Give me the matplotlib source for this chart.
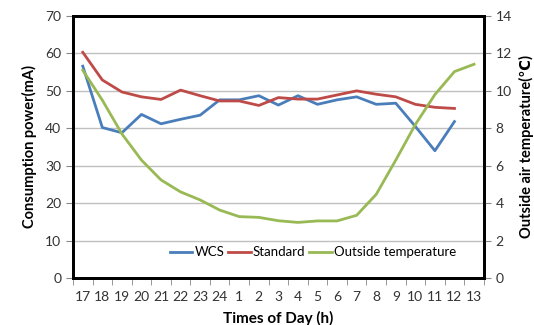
import numpy as np
import matplotlib.pyplot as plt

plt.rcParams['font.family'] = ['Lato', 'DejaVu Sans']

hours = ['17', '18', '19', '20', '21', '22', '23', '24', '1', '2', '3',
         '4', '5', '6', '7', '8', '9', '10', '11', '12', '13']
wcs = [56.6, 40.2, 38.8, 43.7, 41.2, 42.4, 43.5, 47.6, 47.6, 48.7,
       46.2, 48.7, 46.4, 47.6, 48.4, 46.4, 46.7, 40.5, 34.0, 41.8]
standard = [60.3, 52.9, 49.7, 48.4, 47.7, 50.2, 48.7, 47.3, 47.3, 46.1,
            48.2, 47.8, 47.8, 48.9, 50.0, 49.1, 48.4, 46.4, 45.6, 45.3]
temp = [11.1, 9.5, 7.7, 6.3, 5.24, 4.6, 4.17, 3.63, 3.28, 3.24, 3.06,
        2.97, 3.05, 3.05, 3.35, 4.47, 6.3, 8.2, 9.8, 11.03, 11.42]

fig = plt.figure(figsize=(5.34, 3.25), dpi=100)
ax = fig.add_axes([0.1367, 0.1446, 0.7693, 0.8062])
ax2 = ax.twinx()

x = np.arange(len(hours))
l1, = ax.plot(x[:len(wcs)], wcs, color='#4a7ebb', lw=2, label='WCS')
l2, = ax.plot(x[:len(standard)], standard, color='#be4b48', lw=2, label='Standard')
l3, = ax2.plot(x, temp, color='#98b954', lw=2, label='Outside temperature')

ax.set_ylim(0, 70)
ax.set_yticks(range(0, 71, 10))
ax2.set_ylim(0, 14)
ax2.set_yticks(range(0, 15, 2))
ax.set_xlim(-0.5, len(hours) - 0.5)
ax.set_xticks(x)
ax.set_xticklabels(hours)
ax.set_xticks(np.arange(-0.5, len(hours)), minor=True)
ax.tick_params(axis='x', which='major', length=0, pad=9, labelsize=10, labelcolor='#333333')
ax.tick_params(axis='x', which='minor', length=5, color='#888888')
ax.tick_params(axis='y', length=5, color='#888888', labelsize=10, labelcolor='#333333')
ax2.tick_params(axis='y', length=5, color='#888888', labelsize=10, labelcolor='#333333')
ax.yaxis.grid(True, color='#c0c0c0', lw=1)
ax.set_axisbelow(True)

for a in (ax, ax2):
    for s in a.spines.values():
        s.set_linewidth(2)
        s.set_color('black')

ax.set_ylabel('Consumption power(mA)', fontsize=10.5, fontweight='bold', labelpad=6)
ax2.set_ylabel('Outside air temperature(\u2103)', fontsize=10.5, fontweight='bold', labelpad=5)
ax.set_xlabel('Times of Day (h)', fontsize=11, fontweight='bold', labelpad=6)

leg = ax2.legend(handles=[l1, l2, l3], loc='lower center', bbox_to_anchor=(0.584, 0.04),
                 ncol=3, frameon=True, fontsize=9.5, handlelength=1.7,
                 handletextpad=0.15, columnspacing=0.3, borderpad=0.2)
leg.get_frame().set_edgecolor('none')
leg.get_frame().set_facecolor('white')
leg.get_frame().set_alpha(1)

fig.savefig('out.png', dpi=100)
